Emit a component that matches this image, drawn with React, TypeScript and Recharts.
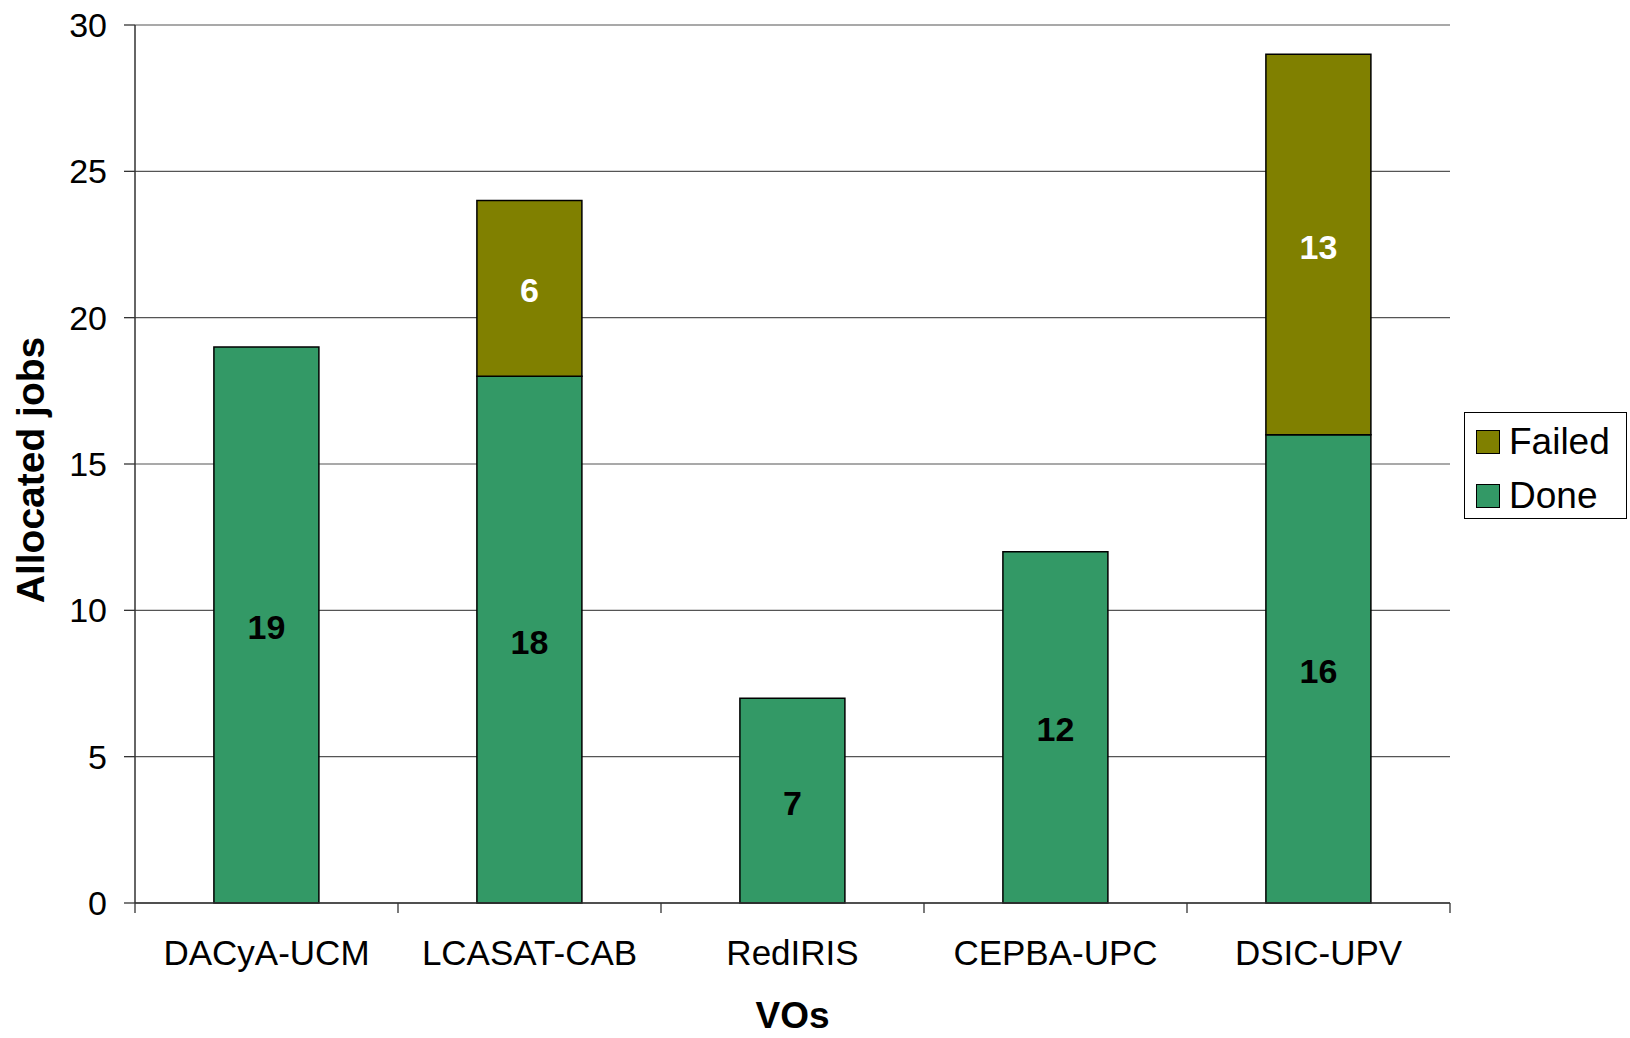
import React from 'react';
import { BarChart, Bar, XAxis, YAxis, CartesianGrid, LabelList } from 'recharts';

const categories = ['DACyA-UCM', 'LCASAT-CAB', 'RedIRIS', 'CEPBA-UPC', 'DSIC-UPV'];
const doneValues = [19, 18, 7, 12, 16];
const failedValues = [0, 6, 0, 0, 13];
const yTicks = [0, 5, 10, 15, 20, 25, 30];
const seriesNames = { done: 'Done', failed: 'Failed' };
const colors = { done: '#339966', failed: '#808000' };

const data = categories.map((name, i) => ({ name, done: doneValues[i], failed: failedValues[i] }));

const FONT = '"Liberation Sans", Arial, sans-serif';
const X_TICK_SIZE = 10;
const X_TICK_MARGIN = 27;

const XTick = (props: any) => {
  const { x, y, payload, index, visibleTicksCount, width } = props;
  const half = payload && payload.offset ? payload.offset : width / visibleTicksCount / 2;
  const axisY = y - X_TICK_SIZE - X_TICK_MARGIN;
  const isLast = index === visibleTicksCount - 1;
  return (
    <g>
      <line x1={x - half} x2={x - half} y1={axisY} y2={axisY + X_TICK_SIZE} stroke="#333" strokeWidth={1.3} />
      {isLast && (
        <line x1={x + half} x2={x + half} y1={axisY} y2={axisY + X_TICK_SIZE} stroke="#333" strokeWidth={1.3} />
      )}
      <text x={x} y={y} dy="0.71em" textAnchor="middle" fontSize={35} fontFamily={FONT} fill="#000">
        {payload.value}
      </text>
    </g>
  );
};

const YTitle = (props: any) => {
  const vb = props.viewBox || { x: 0, y: 25, width: 135, height: 878 };
  const bx = vb.x + 44;
  const cy = vb.y + vb.height / 2 + 6;
  return (
    <text x={bx} y={cy} transform={`rotate(-90, ${bx}, ${cy})`} textAnchor="middle" fontSize={39} fontWeight="bold" fontFamily={FONT} fill="#000">
      Allocated jobs
    </text>
  );
};

const XTitle = (props: any) => {
  const vb = props.viewBox || { x: 135, y: 903, width: 1315, height: 135 };
  return (
    <text x={vb.x + vb.width / 2} y={vb.y + 125} textAnchor="middle" fontSize={37} fontWeight="bold" fontFamily={FONT} fill="#000">
      VOs
    </text>
  );
};

const hideZero = (v: any) => (v ? v : '');

const LegendBox = () => {
  const items = [
    { name: seriesNames.failed, color: colors.failed },
    { name: seriesNames.done, color: colors.done },
  ];
  return (
    <div
      style={{
        position: 'absolute',
        left: 1464,
        top: 412,
        width: 161,
        height: 105,
        border: '1px solid #000',
        background: '#fff',
        fontFamily: FONT,
        fontSize: 37,
        boxSizing: 'content-box',
      }}
    >
      {items.map((it, i) => (
        <div key={it.name} style={{ position: 'absolute', left: 11, top: 9 + i * 54, height: 40, display: 'flex', alignItems: 'center' }}>
          <div style={{ width: 22, height: 22, background: it.color, border: '1px solid #000', marginRight: 9 }} />
          <span style={{ lineHeight: '40px' }}>{it.name}</span>
        </div>
      ))}
    </div>
  );
};

export default function App() {
  return (
    <div style={{ position: 'absolute', left: 0, top: 0, width: 1630, height: 1038, background: '#fff' }}>
      <BarChart
        width={1630}
        height={1038}
        data={data}
        margin={{ top: 25, right: 180, left: 0, bottom: 0 }}
        barCategoryGap="30%"
      >
        <CartesianGrid vertical={false} stroke="#555" strokeWidth={1.2} />
        <XAxis
          dataKey="name"
          height={135}
          tickSize={X_TICK_SIZE}
          tickMargin={X_TICK_MARGIN}
          tickLine={false}
          axisLine={{ stroke: '#333', strokeWidth: 1.5 }}
          tick={<XTick />}
          interval={0}
          label={<XTitle />}
        />
        <YAxis
          width={135}
          domain={[0, 30]}
          ticks={yTicks}
          tickSize={11}
          tickMargin={17}
          tickLine={{ stroke: '#333', strokeWidth: 1.3 }}
          axisLine={{ stroke: '#333', strokeWidth: 1.5 }}
          tick={{ fontSize: 34, fontFamily: FONT, fill: '#000' }}
          label={<YTitle />}
        />
        <YAxis
          yAxisId="border"
          orientation="right"
          width={0}
          domain={[0, 30]}
          tick={false}
          tickLine={false}
          axisLine={{ stroke: '#999', strokeWidth: 2 }}
        />
        <Bar dataKey="done" name={seriesNames.done} stackId="a" fill={colors.done} stroke="#000" strokeWidth={1.5} isAnimationActive={false}>
          <LabelList dataKey="done" position="center" formatter={hideZero} fill="#000" fontSize={34} fontWeight="bold" fontFamily={FONT} dy={2} />
        </Bar>
        <Bar dataKey="failed" name={seriesNames.failed} stackId="a" fill={colors.failed} stroke="#000" strokeWidth={1.5} isAnimationActive={false}>
          <LabelList dataKey="failed" position="center" formatter={hideZero} fill="#fff" fontSize={34} fontWeight="bold" fontFamily={FONT} dy={2} />
        </Bar>
      </BarChart>
      <LegendBox />
    </div>
  );
}
